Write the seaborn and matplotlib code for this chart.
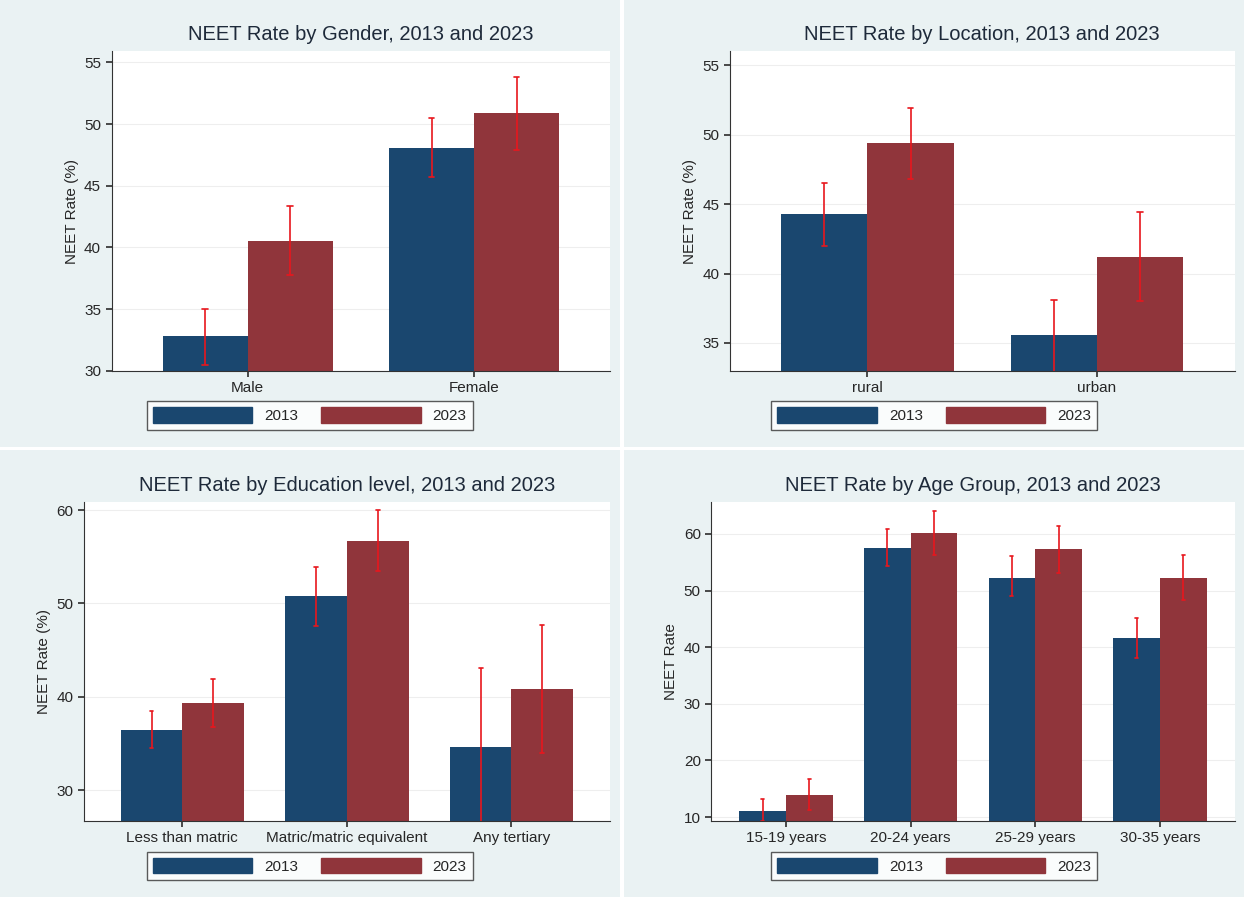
import numpy as np
import pandas as pd
import seaborn as sns
import matplotlib.pyplot as plt
from matplotlib.patches import Patch

years = ["2013", "2023"]

gender_cats = ["Male", "Female"]
gender_2013 = [32.8, 48.1]
gender_2023 = [40.5, 50.9]
gender_lo_2013 = [30.5, 45.7]
gender_hi_2013 = [35.0, 50.5]
gender_lo_2023 = [37.8, 47.9]
gender_hi_2023 = [43.4, 53.8]

loc_cats = ["rural", "urban"]
loc_2013 = [44.3, 35.6]
loc_2023 = [49.4, 41.2]
loc_lo_2013 = [42.0, 32.9]
loc_hi_2013 = [46.5, 38.1]
loc_lo_2023 = [46.8, 38.0]
loc_hi_2023 = [51.9, 44.4]

edu_cats = ["Less than matric", "Matric/matric equivalent", "Any tertiary"]
edu_2013 = [36.4, 50.8, 34.6]
edu_2023 = [39.3, 56.7, 40.8]
edu_lo_2013 = [34.5, 47.6, 26.0]
edu_hi_2013 = [38.5, 53.9, 43.1]
edu_lo_2023 = [36.8, 53.5, 34.0]
edu_hi_2023 = [41.9, 60.0, 47.7]

age_cats = ["15-19 years", "20-24 years", "25-29 years", "30-35 years"]
age_2013 = [11.1, 57.5, 52.3, 41.7]
age_2023 = [13.9, 60.2, 57.3, 52.2]
age_lo_2013 = [9.3, 54.3, 49.0, 38.1]
age_hi_2013 = [13.2, 60.9, 56.1, 45.2]
age_lo_2023 = [11.2, 56.3, 53.1, 48.3]
age_hi_2023 = [16.8, 64.1, 61.4, 56.3]

navy = "#1a476f"
maroon = "#90353b"
bg = "#eaf2f3"

sns.set_theme(style="white")
plt.rcParams['font.family'] = ['Arial', 'Liberation Sans', 'DejaVu Sans']

fig = plt.figure(figsize=(12.44, 8.97), dpi=100, facecolor="white")
subs = fig.subfigures(2, 2, wspace=0.008, hspace=0.008)

panels = [
    (subs[0][0], "NEET Rate by Gender, 2013 and 2023", "NEET Rate (%)", gender_cats,
     gender_2013, gender_2023, gender_lo_2013, gender_hi_2013, gender_lo_2023, gender_hi_2023,
     (30, 55.9), [30, 35, 40, 45, 50, 55], 0.18),
    (subs[0][1], "NEET Rate by Location, 2013 and 2023", "NEET Rate (%)", loc_cats,
     loc_2013, loc_2023, loc_lo_2013, loc_hi_2013, loc_lo_2023, loc_hi_2023,
     (33.0, 56.0), [35, 40, 45, 50, 55], 0.17),
    (subs[1][0], "NEET Rate by Education level, 2013 and 2023", "NEET Rate (%)", edu_cats,
     edu_2013, edu_2023, edu_lo_2013, edu_hi_2013, edu_lo_2023, edu_hi_2023,
     (26.7, 60.9), [30, 40, 50, 60], 0.135),
    (subs[1][1], "NEET Rate by Age Group, 2013 and 2023", "NEET Rate", age_cats,
     age_2013, age_2023, age_lo_2013, age_hi_2013, age_lo_2023, age_hi_2023,
     (9.3, 65.7), [10, 20, 30, 40, 50, 60], 0.14),
]

for sf, title, ylab, cats, v13, v23, lo13, hi13, lo23, hi23, ylim, yticks, left in panels:
    sf.set_facecolor(bg)
    ax = sf.add_axes([left, 0.17, 0.985 - left, 0.715])
    df = pd.DataFrame({
        "cat": cats * 2,
        "year": ["2013"] * len(cats) + ["2023"] * len(cats),
        "val": list(v13) + list(v23),
    })
    sns.barplot(data=df, x="cat", y="val", hue="year", order=cats, hue_order=years,
                palette=[navy, maroon], width=0.75, saturation=1, ax=ax,
                legend=False, errorbar=None, linewidth=0, edgecolor="none")
    lows = [lo13, lo23]
    highs = [hi13, hi23]
    for k, cont in enumerate(ax.containers):
        for i, p in enumerate(cont.patches):
            xc = p.get_x() + p.get_width() / 2
            ax.plot([xc, xc], [lows[k][i], highs[k][i]], color="#e8161d", lw=1.2,
                    solid_capstyle="butt")
            ax.plot([xc - 0.012, xc + 0.012], [highs[k][i]] * 2, color="#e8161d", lw=1.2)
            ax.plot([xc - 0.012, xc + 0.012], [lows[k][i]] * 2, color="#e8161d", lw=1.2)
    ax.set_ylim(*ylim)
    ax.set_yticks(yticks)
    ax.yaxis.grid(True, color="#eeeeee", lw=0.8)
    ax.set_axisbelow(True)
    ax.set_xlim(-0.6, len(cats) - 0.4)
    ax.set_xlabel("")
    ax.set_ylabel(ylab, fontsize=11)
    ax.set_title(title, fontsize=14.5, color="#1e2a3a", pad=8)
    for s in ["top", "right"]:
        ax.spines[s].set_visible(False)
    for s in ["left", "bottom"]:
        ax.spines[s].set_color("#333333")
        ax.spines[s].set_linewidth(0.8)
    ax.tick_params(axis="both", labelsize=11, length=4, left=True, bottom=True, color="#333333")
    handles = [Patch(color=navy, label="2013"), Patch(color=maroon, label="2023")]
    leg = sf.legend(handles=handles, loc="center", bbox_to_anchor=(0.5, 0.07), ncol=2,
                    fontsize=11, frameon=True, fancybox=False, handlelength=6.5,
                    handleheight=1.2, columnspacing=1.5, borderpad=0.4)
    leg.get_frame().set_edgecolor("#333333")
    leg.get_frame().set_facecolor("white")

fig.savefig("out.png", dpi=100, facecolor="white")
